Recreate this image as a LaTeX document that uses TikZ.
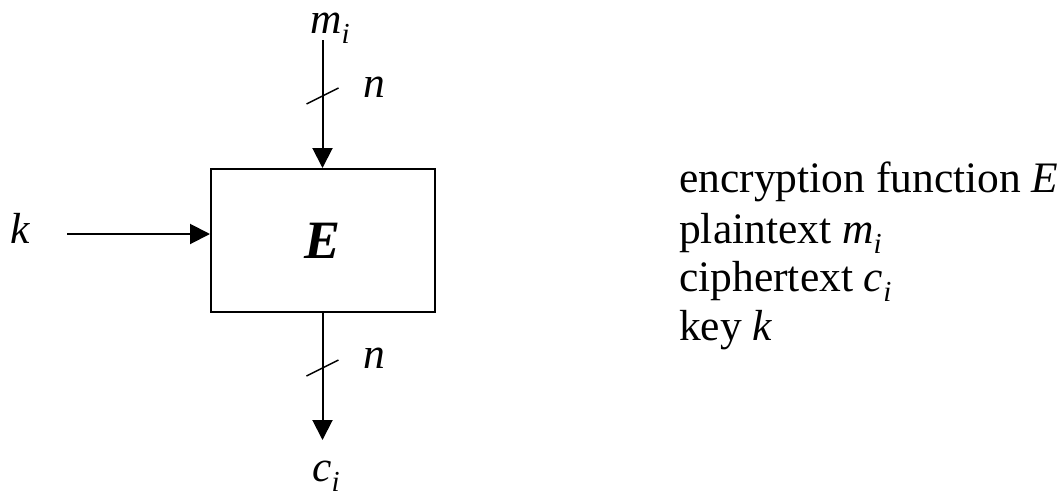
\documentclass[tikz,border=0pt]{standalone}
\usepackage{fontspec}
\setmainfont{Liberation Serif}[ItalicFont={Liberation Serif Italic},
  BoldItalicFont={Liberation Serif Bold Italic}]
\usetikzlibrary{arrows.meta}

% italic letter with a lowered italic subscript i
\newcommand{\withsubi}[1]{\textit{#1}\raisebox{-10pt}{\fontsize{29}{29}\selectfont\textit{i}}}

\tikzset{
  lbl/.style={inner sep=0pt, anchor=base west, font=\fontsize{43.5}{51}\selectfont},
  wire/.style={line width=2pt, -{Triangle[width=20pt,length=20pt]}},
  busmark/.style={line width=1.5pt},
  funcbox/.style={draw, line width=2pt, minimum width=224pt, minimum height=143pt,
                  inner sep=0pt, font=\fontsize{54}{60}\selectfont\bfseries\itshape}
}

\begin{document}
\begin{tikzpicture}[x=1pt, y=-1pt]
    \useasboundingbox (0,0) rectangle (1061,496);

    % the block
    \node[funcbox] (enc) at (323,240.5) {E};

    % plaintext in
    \node[lbl] (mi) at (310,33) {\withsubi{m}};
    \coordinate (mtop) at (322.5,40);
    \draw[wire] (mtop) -- (enc.north -| mtop);
    \coordinate (tickin) at (322.5,96);
    \draw[busmark] ([shift={(-16,8)}]tickin) -- ([shift={(16,-8)}]tickin);
    \node[lbl] (nin) at (363,97) {\textit{n}};

    % ciphertext out
    \coordinate (cbot) at (322.5,440);
    \draw[wire] (enc.south -| cbot) -- (cbot);
    \coordinate (tickout) at (322.5,368);
    \draw[busmark] ([shift={(-16,8)}]tickout) -- ([shift={(16,-8)}]tickout);
    \node[lbl] (nout) at (363,368) {\textit{n}};
    \node[lbl] (ci) at (312,481) {\withsubi{c}};

    % key in
    \node[lbl] (key) at (10,243) {\textit{k}};
    \coordinate (kstart) at (67,234);
    \draw[wire] (kstart) -- (kstart -| enc.west);

    % legend
    \node[lbl] (leg1) at (679,192) {encryption function \textit{E}};
    \node[lbl] (leg2) at (679,243) {plaintext \withsubi{m}};
    \node[lbl] (leg3) at (679,291) {ciphertext \withsubi{c}};
    \node[lbl] (leg4) at (679,340) {key \textit{k}};
\end{tikzpicture}
\end{document}
